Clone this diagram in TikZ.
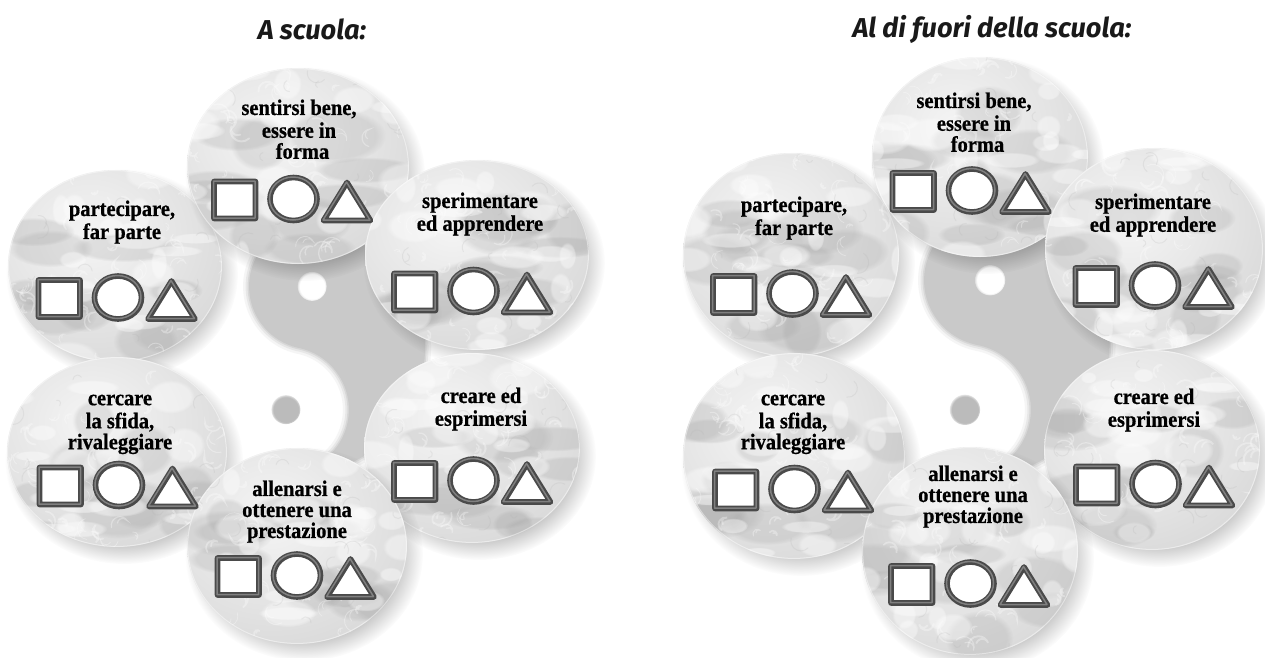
\documentclass[tikz,border=0pt]{standalone}
\usepackage{fontspec}
\newfontfamily\labelfont[FakeStretch=0.92,FakeBold=0.7]{Liberation Serif}
\newfontfamily\headfont{Fira Sans}
\usetikzlibrary{fadings}

\definecolor{yygray}{gray}{0.79}
\definecolor{symdarkc}{gray}{0.29}
\definecolor{symlightc}{gray}{0.50}

\tikzset{
  lbl/.style={anchor=north, inner sep=0pt, align=center, text=black,
    font=\labelfont\bfseries\fontsize{22.3}{21}\selectfont},
  head/.style={anchor=base, inner sep=0pt, text=black!90,
    font=\headfont\bfseries\itshape\fontsize{27.3}{30}\selectfont},
  softblob/.style={path fading=circle with fuzzy edge 20 percent},
  symfill/.style={fill=white},
  symdark/.style={draw=symdarkc, line width=5.6pt, line join=round},
  symlight/.style={draw=symlightc, line width=1.5pt, line join=round},
}

% a marbled disc: centre x, centre y, x radius, y radius, seed
\newcommand\marbledisc[5]{%
  \fill[black, opacity=0.22, softblob] (#1+7,#2+8) ellipse [x radius=#3+9, y radius=#4+9];
  \begin{scope}
    \clip (#1,#2) ellipse [x radius=#3, y radius=#4];
    \shade[inner color=gray!8, outer color=gray!32] (#1-25,#2-30) ellipse [x radius=#3*1.6, y radius=#4*1.6];
    \pgfmathsetseed{#5}
    % darker smoky patches
    \foreach \k in {1,...,11}{
      \pgfmathsetmacro\bx{#1+(rnd*1.8-0.9)*#3}
      \pgfmathsetmacro\by{#2+(rnd*1.3-0.45)*#4}
      \pgfmathsetmacro\bw{20+rnd*35}
      \pgfmathsetmacro\bh{10+rnd*18}
      \fill[gray!75, opacity=0.24, softblob] (\bx,\by) ellipse [x radius=\bw, y radius=\bh];
    }
    % pale clouds
    \foreach \k in {1,...,22}{
      \pgfmathsetmacro\bx{#1+(rnd*2-1)*#3}
      \pgfmathsetmacro\by{#2+(rnd*2-1)*#4}
      \pgfmathsetmacro\bw{8+rnd*24}
      \pgfmathsetmacro\bh{5+rnd*14}
      \fill[white, opacity=0.40, softblob] (\bx,\by) ellipse [x radius=\bw, y radius=\bh];
    }
    % curling wisps
    \foreach \k in {1,...,46}{
      \pgfmathsetmacro\bx{#1+(rnd*2-1)*#3}
      \pgfmathsetmacro\by{#2+(rnd*2-1)*#4}
      \pgfmathsetmacro\ba{rnd*360}
      \pgfmathsetmacro\br{3+rnd*9}
      \pgfmathsetmacro\bl{0.6+rnd*1.4}
      \draw[white, opacity=0.32, line width=\bl pt, line cap=round]
        (\bx,\by) arc[start angle=\ba, delta angle=160, radius=\br]
        arc[start angle=\ba+160, delta angle=-140, radius=\br*0.6];
    }
    \foreach \k in {1,...,18}{
      \pgfmathsetmacro\bx{#1+(rnd*2-1)*#3}
      \pgfmathsetmacro\by{#2+(rnd*2-1)*#4}
      \pgfmathsetmacro\ba{rnd*360}
      \pgfmathsetmacro\br{3+rnd*8}
      \draw[gray!60, opacity=0.2, line width=1pt, line cap=round]
        (\bx,\by) arc[start angle=\ba, delta angle=150, radius=\br];
    }
  \end{scope}
  \draw[white, opacity=0.45, line width=1pt] (#1,#2) ellipse [x radius=#3-0.6, y radius=#4-0.6];
}

% square, circle and triangle centred on a point
\newcommand\symbolrow[2]{%
  \begin{scope}[shift={(#1,#2)}]
    \path[symfill] (-78.5,-18.5) rectangle (-37,18.5) (1,-1) ellipse [x radius=23.5, y radius=21.5]
      (31,20.5) -- (54.5,-17.5) -- (78,20.5) -- cycle;
    \path[symdark] (-78.5,-18.5) rectangle (-37,18.5) (1,-1) ellipse [x radius=23.5, y radius=21.5]
      (31,20.5) -- (54.5,-17.5) -- (78,20.5) -- cycle;
    \path[symlight, shift={(-0.5,-0.5)}] (-78.5,-18.5) rectangle (-37,18.5) (1,-1) ellipse [x radius=23.5, y radius=21.5]
      (31,20.5) -- (54.5,-17.5) -- (78,20.5) -- cycle;
  \end{scope}
}

% grey yin-yang shadow: centre x, centre y, radius, tilt
\newcommand\yinyang[4]{%
  \begin{scope}[shift={(#1,#2)}, rotate=#4]
    \foreach \lw/\op in {12/0.18, 7/0.3, 3/0.5}{
      \draw[yygray, line width=\lw pt, opacity=\op] (0,-#3) arc[start angle=-90, end angle=90, radius=#3]
        arc[start angle=90, end angle=-90, radius=#3/2]
        arc[start angle=90, end angle=270, radius=#3/2] -- cycle;
    }
    \fill[yygray] (0,-#3) arc[start angle=-90, end angle=90, radius=#3]
      arc[start angle=90, end angle=-90, radius=#3/2]
      arc[start angle=90, end angle=270, radius=#3/2] -- cycle;
    \fill[white, softblob] (0,-#3/2) circle [radius=#3*0.115];
    \fill[yygray!93!black, softblob] (0,#3/2) circle [radius=#3*0.115];
  \end{scope}
}

\begin{document}
\begin{tikzpicture}[x=1pt, y=-1pt]
\useasboundingbox (0,0) rectangle (1265,657);
\fill[white] (0,0) rectangle (1265,657);

% ---------------- titles
\node[head] (t1) at (312,39) {A scuola:};
\node[head] (t2) at (992,37) {Al di fuori della scuola:};

% ---------------- left group
\yinyang{299}{348}{126}{-12}
\marbledisc{115}{266}{107}{96}{11}
\marbledisc{117}{452}{110}{95}{12}
\marbledisc{298}{166}{111}{98}{13}
\marbledisc{477}{255}{112}{95}{14}
\marbledisc{472}{448}{108}{95}{15}
\marbledisc{297}{546}{110}{98}{16}

\symbolrow{292.5}{200}
\symbolrow{117}{298.5}
\symbolrow{472.5}{292}
\symbolrow{118}{486}
\symbolrow{472.5}{481.5}
\symbolrow{296}{576.5}

\node[lbl] (l1) at (299,99.3) {\strut sentirsi bene,\\essere in\hspace*{8pt}\\\hspace*{7pt}forma};
\node[lbl] (l2) at (122,200.3) {\strut partecipare,\\far parte};
\node[lbl] (l3) at (480,192.3) {\strut sperimentare\\ed apprendere};
\node[lbl] (l4) at (120,390.3) {\strut cercare\\la sfida,\\rivaleggiare};
\node[lbl] (l5) at (481,387.3) {\strut creare ed\\esprimersi};
\node[lbl] (l6) at (297,480.3) {\strut allenarsi e\\ottenere una\\prestazione};

% ---------------- right group
\yinyang{977.5}{345}{132}{-11}
\marbledisc{791}{255}{108}{102}{21}
\marbledisc{794}{456}{111}{103}{22}
\marbledisc{980}{157}{108}{100}{23}
\marbledisc{1154}{249}{109}{101}{24}
\marbledisc{1152}{450}{108}{100}{25}
\marbledisc{970}{551}{108}{104}{26}

\symbolrow{971}{191.5}
\symbolrow{791.5}{294.5}
\symbolrow{1154}{286.5}
\symbolrow{793.5}{490}
\symbolrow{1154.5}{485}
\symbolrow{969.5}{584.5}

\node[lbl] (r1) at (974,92.3) {\strut sentirsi bene,\\essere in\hspace*{8pt}\\\hspace*{7pt}forma};
\node[lbl] (r2) at (794,196.3) {\strut partecipare,\\far parte};
\node[lbl] (r3) at (1153,193.3) {\strut sperimentare\\ed apprendere};
\node[lbl] (r4) at (793,390.3) {\strut cercare\\la sfida,\\rivaleggiare};
\node[lbl] (r5) at (1154,388.3) {\strut creare ed\\esprimersi};
\node[lbl] (r6) at (973,465.3) {\strut allenarsi e\\ottenere una\\prestazione};
\end{tikzpicture}
\end{document}
